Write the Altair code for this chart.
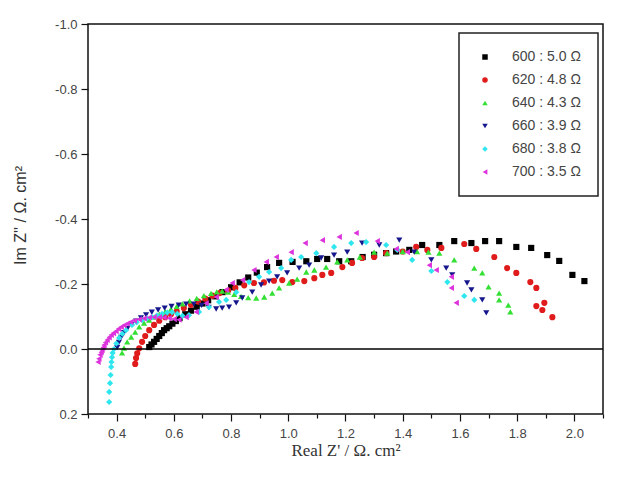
import altair as alt
import pandas as pd

series_names = ["600 : 5.0 Ω", "620 : 4.8 Ω", "640 : 4.3 Ω", "660 : 3.9 Ω", "680 : 3.8 Ω", "700 : 3.5 Ω"]
colors = ["#000000", "#e01b1b", "#33e033", "#16168c", "#2ee6ee", "#dd33dd"]
shapes = ["square", "circle", "triangle-up", "triangle-down", "diamond", "triangle-left"]

x600 = [0.514, 0.522, 0.531, 0.540, 0.549, 0.558, 0.566, 0.575, 0.584, 0.595, 0.607, 0.62, 0.64, 0.66,
        0.68, 0.70, 0.72, 0.745, 0.77, 0.80, 0.83, 0.86, 0.89, 0.926, 0.968, 1.015, 1.063, 1.101, 1.136,
        1.178, 1.22, 1.26, 1.30, 1.342, 1.377, 1.423, 1.468, 1.528, 1.58, 1.64, 1.688, 1.737, 1.797,
        1.849, 1.905, 1.947, 1.993, 2.035]
y600 = [-0.006, -0.014, -0.022, -0.031, -0.040, -0.049, -0.058, -0.064, -0.070, -0.078, -0.086, -0.095,
        -0.107, -0.118, -0.13, -0.14, -0.15, -0.162, -0.175, -0.19, -0.205, -0.22, -0.235, -0.252, -0.265,
        -0.268, -0.27, -0.277, -0.277, -0.27, -0.27, -0.283, -0.29, -0.295, -0.30, -0.305, -0.32, -0.32,
        -0.332, -0.326, -0.332, -0.332, -0.314, -0.311, -0.289, -0.271, -0.228, -0.209]

x620 = [0.465, 0.468, 0.472, 0.479, 0.489, 0.50, 0.514, 0.531, 0.549, 0.57, 0.59, 0.61, 0.635, 0.66,
        0.685, 0.71, 0.735, 0.76, 0.79, 0.815, 0.846, 0.88, 0.915, 0.95, 0.979, 1.014, 1.056, 1.091,
        1.119, 1.15, 1.189, 1.223, 1.258, 1.30, 1.342, 1.40, 1.447, 1.486, 1.535, 1.615, 1.657, 1.72,
        1.765, 1.797, 1.846, 1.867, 1.895, 1.867, 1.888, 1.923]
y620 = [0.046, 0.028, 0.013, -0.002, -0.022, -0.04, -0.058, -0.074, -0.087, -0.098, -0.107, -0.116,
        -0.126, -0.136, -0.146, -0.155, -0.164, -0.172, -0.18, -0.188, -0.196, -0.203, -0.205, -0.21,
        -0.212, -0.206, -0.209, -0.218, -0.228, -0.234, -0.252, -0.265, -0.28, -0.283, -0.295, -0.30,
        -0.314, -0.305, -0.311, -0.323, -0.308, -0.283, -0.249, -0.234, -0.206, -0.188, -0.142, -0.132,
        -0.12, -0.098]

x640 = [0.419, 0.426, 0.437, 0.451, 0.465, 0.479, 0.496, 0.514, 0.531, 0.55, 0.57, 0.59, 0.61, 0.63,
        0.655, 0.68, 0.705, 0.73, 0.75, 0.769, 0.79, 0.811, 0.835, 0.86, 0.888, 0.916, 0.944, 0.968,
        1.003, 1.031, 1.063, 1.091, 1.132, 1.171, 1.206, 1.25, 1.30, 1.346, 1.40, 1.45, 1.49, 1.528,
        1.58, 1.65, 1.678, 1.70, 1.737, 1.737, 1.769, 1.776]
y640 = [0.012, -0.003, -0.022, -0.037, -0.052, -0.068, -0.08, -0.089, -0.098, -0.107, -0.115, -0.123,
        -0.131, -0.139, -0.148, -0.156, -0.164, -0.171, -0.176, -0.178, -0.175, -0.168, -0.162, -0.158,
        -0.157, -0.16, -0.172, -0.188, -0.203, -0.215, -0.237, -0.243, -0.252, -0.268, -0.274, -0.283,
        -0.298, -0.295, -0.30, -0.30, -0.298, -0.295, -0.274, -0.249, -0.234, -0.191, -0.172, -0.151,
        -0.135, -0.114]

x660 = [0.402, 0.408, 0.416, 0.426, 0.438, 0.452, 0.468, 0.485, 0.503, 0.523, 0.545, 0.568, 0.592,
        0.617, 0.643, 0.67, 0.697, 0.722, 0.748, 0.769, 0.793, 0.818, 0.839, 0.874, 0.905, 0.933, 0.961,
        0.996, 1.038, 1.073, 1.115, 1.16, 1.206, 1.258, 1.318, 1.388, 1.44, 1.50, 1.552, 1.573, 1.625,
        1.64, 1.678, 1.692]
y660 = [-0.004, -0.02, -0.036, -0.05, -0.063, -0.075, -0.086, -0.096, -0.105, -0.113, -0.12, -0.126,
        -0.131, -0.135, -0.138, -0.138, -0.134, -0.128, -0.123, -0.126, -0.129, -0.142, -0.157, -0.175,
        -0.197, -0.209, -0.222, -0.234, -0.249, -0.258, -0.28, -0.289, -0.298, -0.326, -0.32, -0.335,
        -0.298, -0.274, -0.249, -0.228, -0.203, -0.182, -0.151, -0.111]

x680 = [0.374, 0.374, 0.377, 0.379, 0.381, 0.382, 0.384, 0.386, 0.391, 0.399, 0.409, 0.42, 0.433,
        0.454, 0.47, 0.489, 0.506, 0.524, 0.541, 0.559, 0.577, 0.594, 0.612, 0.63, 0.653, 0.688, 0.723,
        0.758, 0.783, 0.818, 0.863, 0.898, 0.933, 0.975, 1.01, 1.045, 1.098, 1.16, 1.22, 1.272, 1.342,
        1.381, 1.433, 1.50, 1.556, 1.615, 1.65]
y680 = [0.163, 0.132, 0.105, 0.08, 0.055, 0.04, 0.025, 0.012, 0.0, -0.017, -0.034, -0.047, -0.058,
        -0.074, -0.082, -0.089, -0.094, -0.098, -0.103, -0.108, -0.112, -0.113, -0.108, -0.102, -0.104,
        -0.114, -0.129, -0.145, -0.151, -0.175, -0.206, -0.222, -0.237, -0.249, -0.274, -0.283, -0.295,
        -0.314, -0.326, -0.329, -0.32, -0.305, -0.274, -0.24, -0.206, -0.163, -0.151]

x700 = [0.335, 0.338, 0.342, 0.346, 0.349, 0.353, 0.356, 0.361, 0.367, 0.374, 0.381, 0.389, 0.398,
        0.407, 0.416, 0.426, 0.437, 0.449, 0.462, 0.479, 0.496, 0.514, 0.531, 0.549, 0.566, 0.584, 0.601,
        0.618, 0.643, 0.678, 0.713, 0.748, 0.783, 0.804, 0.84, 0.88, 0.923, 0.958, 1.01, 1.059, 1.119,
        1.178, 1.237, 1.311, 1.377, 1.416, 1.493, 1.517, 1.57, 1.57, 1.587]
y700 = [0.04, 0.03, 0.018, 0.01, 0.003, -0.005, -0.012, -0.02, -0.028, -0.036, -0.043, -0.049, -0.055,
        -0.062, -0.068, -0.073, -0.078, -0.083, -0.087, -0.091, -0.094, -0.097, -0.098, -0.098, -0.097,
        -0.095, -0.092, -0.09, -0.098, -0.114, -0.141, -0.16, -0.182, -0.203, -0.212, -0.243, -0.268,
        -0.283, -0.298, -0.326, -0.335, -0.345, -0.357, -0.332, -0.308, -0.298, -0.258, -0.243, -0.222,
        -0.188, -0.142]

x_tick_values = [0.3, 0.4, 0.5, 0.6, 0.7, 0.8, 0.9, 1.0, 1.1, 1.2, 1.3, 1.4, 1.5, 1.6, 1.7, 1.8, 1.9, 2.0, 2.1]
y_tick_values = [-1.0, -0.9, -0.8, -0.7, -0.6, -0.5, -0.4, -0.3, -0.2, -0.1, 0.0, 0.1, 0.2]
zero_line = [0.0]

xs = [x600, x620, x640, x660, x680, x700]
ys = [y600, y620, y640, y660, y680, y700]
rows = []
for name, xx, yy in zip(series_names, xs, ys):
    for a, b in zip(xx, yy):
        rows.append({"x": a, "y": b, "series": name})
df = pd.DataFrame(rows)

major_test = "round(datum.value*10) % 2 == 0"
tick_size = {"condition": {"test": major_test, "value": 7}, "value": 4}

x_axis = alt.Axis(
    values=x_tick_values,
    labelExpr="(round(datum.value*10) % 2 == 0) ? format(datum.value, '.1f') : ''",
    title="Real Z' / Ω. cm²",
    titleFont="Liberation Serif", titleFontSize=17, titleFontWeight="normal", titleColor="#333",
    titleBaseline="alphabetic", titleY=41,
    labelFont="Liberation Sans", labelFontSize=13, labelColor="#444", labelPadding=6,
    tickSize=tick_size, tickColor="#111", tickWidth=1.2, domain=False, grid=False,
    labelFlush=False, labelOverlap=False,
)
y_axis = alt.Axis(
    values=y_tick_values,
    labelExpr="(round(datum.value*10) % 2 == 0) ? replace(format(datum.value, '.1f'), '\u2212', '-') : ''",
    title="Im Z'' / Ω. cm²",
    titleFont="Liberation Sans", titleFontSize=16, titleFontWeight="normal", titleColor="#333",
    titleAngle=-90, titleBaseline="middle", titleAlign="center", titleX=-68, titleY=191,
    labelFont="Liberation Sans", labelFontSize=13, labelColor="#444", labelPadding=4,
    tickSize=tick_size, tickColor="#111", tickWidth=1.2, domain=False, grid=False,
    labelFlush=False, labelOverlap=False,
)

points = alt.Chart(df).mark_point(filled=True, size=38, opacity=1, strokeWidth=0).encode(
    x=alt.X("x:Q", scale=alt.Scale(domain=[0.3, 2.1], nice=False, zero=False), axis=x_axis),
    y=alt.Y("y:Q", scale=alt.Scale(domain=[-1.0, 0.2], nice=False, zero=False, reverse=True), axis=y_axis),
    color=alt.Color("series:N", scale=alt.Scale(domain=series_names, range=colors), title=None,
                    legend=alt.Legend(orient="none", legendX=371, legendY=9, padding=17,
                                      strokeColor="#222", fillColor="white",
                                      labelFont="Liberation Sans", labelFontSize=14, labelColor="#444",
                                      symbolSize=30, rowPadding=9, labelOffset=20, symbolOffset=2)),
    shape=alt.Shape("series:N", scale=alt.Scale(domain=series_names, range=shapes), title=None),
)

zero = alt.Chart(pd.DataFrame({"y": zero_line})).mark_rule(color="black", strokeWidth=1.5).encode(
    y=alt.Y("y:Q")
)

chart = alt.layer(points, zero).properties(
    width=515, height=390,
    autosize=alt.AutoSizeParams(type="none"),
    padding={"left": 80, "top": 16, "right": 8, "bottom": 48},
).configure_view(stroke="#111", strokeWidth=1.5).configure_legend(strokeWidth=1.5)

chart.save("out.html", embed_options={"renderer": "svg", "actions": False})
